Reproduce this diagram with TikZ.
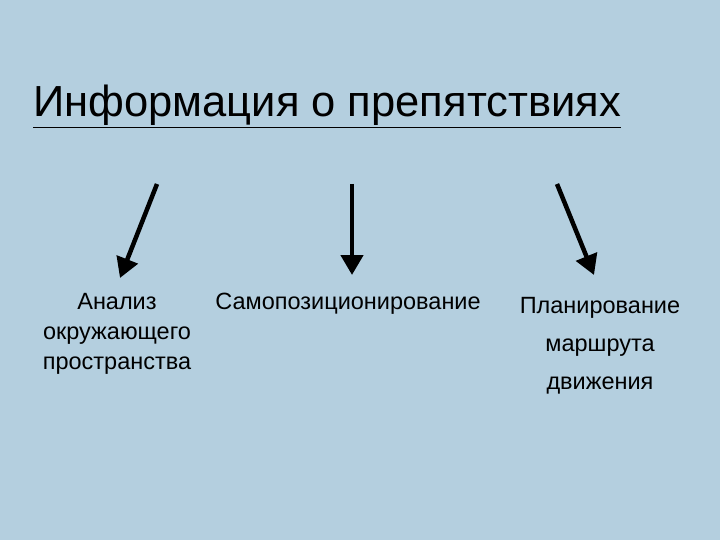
\documentclass[tikz,border=0pt]{standalone}
\usepackage{fontspec}
\setmainfont{Liberation Sans}
\usetikzlibrary{arrows.meta}
\begin{document}
\begin{tikzpicture}[x=1pt,y=-1pt,
  arr/.style={line width=4.5pt,-{Triangle[length=20pt,width=22pt]}},
  lbl/.style={font=\fontsize{23.5}{30}\selectfont,align=center,inner sep=0}]
\fill[fill={rgb,255:red,180;green,207;blue,223}] (0,0) rectangle (720,540);
\useasboundingbox (0,0) rectangle (720,540);
\node[anchor=base west,inner sep=0,font=\fontsize{43.5}{50}\selectfont] (title) at (33,117) {\underline{Информация о препятствиях}};
\coordinate (a1) at (157,184); \coordinate (b1) at (120,278);
\coordinate (a2) at (352,184); \coordinate (b2) at (352,275);
\coordinate (a3) at (557,184); \coordinate (b3) at (594,275);
\draw[arr] (a1) -- (b1);
\draw[arr] (a2) -- (b2);
\draw[arr] (a3) -- (b3);
\node[lbl,anchor=north,font=\fontsize{23.5}{30}\selectfont] (l1) at (117,293) {Анализ\\окружающего\\пространства};
\node[lbl,anchor=north] (l2) at (348,293) {Самопозиционирование};
\node[lbl,anchor=north,font=\fontsize{23.5}{38}\selectfont] (l3) at (600,297) {Планирование\\маршрута\\движения};
\end{tikzpicture}
\end{document}
